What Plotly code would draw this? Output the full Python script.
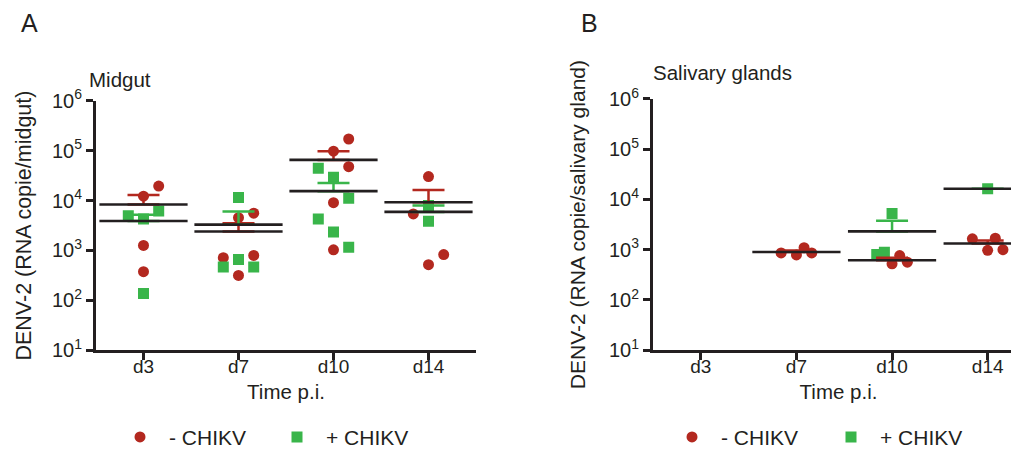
import numpy as np
import plotly.graph_objects as go

# ---------------- data ----------------
days = ["d3", "d7", "d10", "d14"]

# Panel A: Midgut (RNA copies / midgut)
midgut_neg = [[19600, 12300, 1260, 375],
              [5600, 4560, 716, 795, 316],
              [172000, 98000, 48000, 9100, 1030],
              [30300, 5400, 830, 520]]
midgut_pos = [[5000, 4300, 6200, 138],
              [11600, 468, 663, 468],
              [44400, 29500, 11100, 4300, 2360, 1160],
              [8000, 3870]]

# Panel B: Salivary glands (RNA copies / salivary gland)
saliva_neg = [[], [861, 787, 1095, 861], [525, 763, 566], [1644, 1696, 973, 1000]]
saliva_pos = [[], [], [5250, 800, 890], [16300]]

# horizontal scatter slots (column-scatter jitter), same shape as the data
midgut_neg_slot = [[2, 0, 0, 0], [2, 0, -2, 2, 0], [2, 0, 2, 0, 0], [0, -2, 2, 0]]
midgut_pos_slot = [[-2, 0, 2, 0], [0, -2, 0, 2], [-2, 0, 2, -2, 0, 2], [0, 0]]
saliva_neg_slot = [[], [-2, 0, 1, 2], [0, 1, 2], [-2, 1, 0, 2]]
saliva_pos_slot = [[], [], [0, -2, -1], [0]]

group_names = ["- CHIKV", "+ CHIKV"]

# ---------------- style ----------------
RED = "#B3281F"
GREEN = "#39B54A"
INK = "#231F20"
FONT = "Arial"
SLOT = 0.08
W, H = 1019, 450


def px_x(p):
    return p / W


def px_y(p):
    return 1 - p / H


fig = go.Figure()


def add_panel(neg, pos, neg_slot, pos_slot, xa, ya, legend_id):
    groups = [(neg, neg_slot, RED, "circle", group_names[0]),
              (pos, pos_slot, GREEN, "square", group_names[1])]
    # points
    for vals, slots, col, sym, name in groups:
        xs, ys = [], []
        for i, (v, s) in enumerate(zip(vals, slots)):
            for val, sl in zip(v, s):
                xs.append(i + sl * SLOT)
                ys.append(val)
        fig.add_trace(go.Scatter(
            x=xs, y=ys, mode="markers", name=name,
            marker=dict(color=col, symbol=sym, size=11, line=dict(width=0)),
            xaxis=xa, yaxis=ya, legend=legend_id, showlegend=True))
    # mean + SEM (upper only)
    for vals, slots, col, sym, name in groups:
        mx, my, me = [], [], []
        for i, v in enumerate(vals):
            if len(v) == 0:
                continue
            arr = np.array(v, dtype=float)
            m = arr.mean()
            sem = arr.std(ddof=1) / np.sqrt(len(arr)) if len(arr) > 1 else 0.0
            mx.append(i)
            my.append(m)
            me.append(sem)
        fig.add_trace(go.Scatter(
            x=mx, y=my, mode="markers", showlegend=False,
            marker=dict(symbol="line-ew", size=63, color=INK,
                        line=dict(color=INK, width=2.6)),
            error_y=dict(type="data", symmetric=False, array=me,
                         arrayminus=[0] * len(me), color=col,
                         thickness=2.5, width=16),
            xaxis=xa, yaxis=ya))


add_panel(midgut_neg, midgut_pos, midgut_neg_slot, midgut_pos_slot, "x", "y", "legend")
add_panel(saliva_neg, saliva_pos, saliva_neg_slot, saliva_pos_slot, "x2", "y2", "legend2")

yticks = [10 ** k for k in range(1, 7)]
ytext = ["10<sup>%d</sup>" % k for k in range(1, 7)]

common_x = dict(range=[-0.5, 3.5], tickvals=list(range(len(days))), ticktext=days,
                showline=True, linewidth=3, linecolor=INK, ticks="outside",
                ticklen=7, tickwidth=2.5, tickcolor=INK, showgrid=False,
                zeroline=False, automargin=False, ticklabelstandoff=-10,
                tickfont=dict(family=FONT, size=19, color=INK),
                title=dict(text="Time p.i.", font=dict(family=FONT, size=20.5, color=INK),
                           standoff=9))
common_y = dict(type="log", range=[1, 6], tickvals=yticks, ticktext=ytext,
                showline=True, linewidth=3, linecolor=INK, ticks="outside",
                ticklen=7, tickwidth=2.5, tickcolor=INK, showgrid=False,
                zeroline=False, automargin=False,
                tickfont=dict(family=FONT, size=20, color=INK))

fig.update_layout(
    template="none",
    width=W, height=H, autosize=False,
    margin=dict(l=0, r=0, t=0, b=0),
    paper_bgcolor="white", plot_bgcolor="white",
    font=dict(family=FONT, color=INK),
    xaxis=dict(common_x, domain=[px_x(88), px_x(468)], anchor="y"),
    yaxis=dict(common_y, domain=[px_y(350), px_y(95)], anchor="x",
               title=dict(text="DENV-2 (RNA copie/midgut)",
                          font=dict(family=FONT, size=21.5, color=INK), standoff=15)),
    xaxis2=dict(common_x, domain=[px_x(645), px_x(1016)], anchor="y2", range=[-0.5, 3.38]),
    yaxis2=dict(common_y, domain=[px_y(350), px_y(93)], anchor="x2",
                title=dict(text="DENV-2 (RNA copie/salivary gland)",
                           font=dict(family=FONT, size=21, color=INK), standoff=18)),
    legend=dict(orientation="h", x=px_x(103), xanchor="left", y=px_y(439), yanchor="middle",
                font=dict(family=FONT, size=21, color=INK), entrywidth=94, itemwidth=48,
                bgcolor="rgba(0,0,0,0)"),
    legend2=dict(orientation="h", x=px_x(655), xanchor="left", y=px_y(439), yanchor="middle",
                 font=dict(family=FONT, size=21, color=INK), entrywidth=96, itemwidth=48,
                 bgcolor="rgba(0,0,0,0)"),
    annotations=[
        dict(text="A", x=px_x(11), y=px_y(15), xref="paper", yref="paper",
             xanchor="left", yanchor="middle", showarrow=False,
             font=dict(family=FONT, size=25, color=INK)),
        dict(text="B", x=px_x(571), y=px_y(15), xref="paper", yref="paper",
             xanchor="left", yanchor="middle", showarrow=False,
             font=dict(family=FONT, size=25, color=INK)),
        dict(text="Midgut", x=px_x(79), y=px_y(73), xref="paper", yref="paper",
             xanchor="left", yanchor="middle", showarrow=False,
             font=dict(family=FONT, size=20.5, color=INK)),
        dict(text="Salivary glands", x=px_x(643), y=px_y(66), xref="paper", yref="paper",
             xanchor="left", yanchor="middle", showarrow=False,
             font=dict(family=FONT, size=20.5, color=INK)),
    ],
)

fig.write_html("out.html")
